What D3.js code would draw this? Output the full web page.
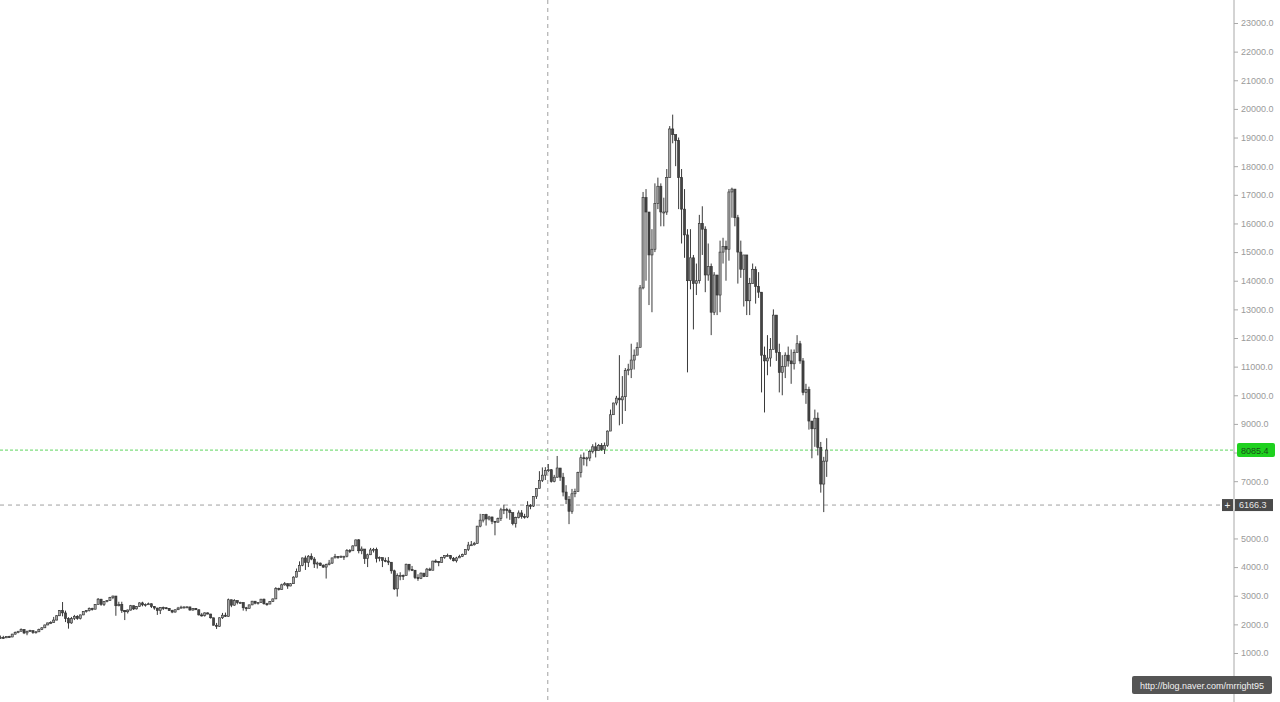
<!DOCTYPE html>
<html>
<head>
<meta charset="utf-8">
<script src="https://cdn.jsdelivr.net/npm/d3@7"></script>
<style>
  html, body { margin: 0; padding: 0; background: #fff; }
  svg { display: block; font-family: "Liberation Sans", Arial, sans-serif; }
</style>
</head>
<body>
<svg width="1280" height="702"></svg>
<script>
// daily BTC/USD candles, 2017-05-03 .. 2018-02-07 (open = previous close)
const startDay = "2017-05-03";
const firstOpen = 1450;

const closes = [
  1510, 1540, 1530, 1570, 1560, 1660, 1710, 1760, 1820, 1700, 1760, 1780, 1720, 1740, 1820, 1880, 1980, 2050, 2060, 2150, 2300, 2480, 2400, 2200, 2050, 2200, 2280, 2200, 2330,
  2450, 2480, 2550, 2530, 2700, 2880, 2700, 2800, 2830, 2940, 2990, 2650, 2700, 2480, 2440, 2500, 2650, 2540, 2620, 2750, 2680, 2700, 2720, 2620, 2570, 2480, 2590, 2580, 2560, 2480,
  2430, 2510, 2570, 2600, 2610, 2610, 2500, 2560, 2510, 2330, 2310, 2400, 2360, 2230, 1970, 1930, 2230, 2320, 2280, 2860, 2670, 2830, 2760, 2760, 2580, 2560, 2680, 2810, 2740, 2760, 2880,
  2720, 2710, 2800, 2890, 3250, 3220, 3380, 3420, 3340, 3420, 3650, 3850, 4060, 4320, 4160, 4380, 4280, 4110, 4140, 4060, 4000, 4090, 4140, 4320, 4370, 4350, 4380, 4380, 4580, 4570, 4740,
  4950, 4570, 4630, 4300, 4430, 4600, 4620, 4300, 4330, 4230, 4210, 4170, 3870, 3240, 3700, 3710, 3700, 4100, 3920, 3890, 3630, 3610, 3790, 3670, 3930, 3890, 4210, 4190, 4160, 4340,
  4400, 4400, 4310, 4220, 4320, 4370, 4440, 4610, 4770, 4780, 4820, 5430, 5640, 5830, 5680, 5750, 5600, 5570, 5700, 6000, 6010, 5980, 5900, 5520, 5730, 5890, 5770, 5750, 6150, 6130, 6470,
  6750, 7030, 7210, 7380, 7400, 6990, 7140, 7460, 7140, 6620, 6360, 5950, 6560, 6640, 7300, 7820, 7790, 7810, 8040, 8200, 8070, 8250, 8100, 8250, 8750, 9320, 9730, 9900, 9840, 9950,
  10860, 10910, 11230, 11400, 11670, 13750, 16900, 16400, 14900, 15100, 16700, 17300, 16400, 16400, 17600, 19300, 19100, 18900, 17600, 16500, 15600, 14000, 14800, 13900, 14000, 16000, 15800, 14200, 14500, 12900, 14200,
  13500, 15000, 15200, 15100, 17100, 17200, 16200, 15000, 14400, 14900, 13300, 13900, 14400, 13800, 13600, 11400, 11200, 11300, 11600, 12800, 11500, 10800, 11000, 11400, 11200, 11100, 11500, 11800, 11200, 10100, 10200,
  9100, 8830, 9200, 8180, 6900, 7700, 8085.4
];

const highs = [
  1530, 1610, 1600, 1580, 1600, 1670, 1750, 1770, 1860, 1830, 1780, 1810, 1780, 1760, 1850, 1900, 1990, 2060, 2110, 2260, 2320, 2500, 2780, 2480, 2250, 2260, 2330, 2320, 2340,
  2460, 2500, 2590, 2580, 2710, 2920, 2890, 2810, 2850, 2960, 3000, 2990, 2790, 2790, 2500, 2520, 2680, 2660, 2640, 2770, 2790, 2730, 2760, 2730, 2640, 2580, 2600, 2620, 2600, 2570,
  2510, 2520, 2610, 2650, 2620, 2630, 2610, 2570, 2570, 2520, 2400, 2420, 2420, 2370, 2230, 2050, 2240, 2400, 2410, 2900, 2860, 2880, 2830, 2790, 2770, 2610, 2690, 2820, 2810, 2770, 2890,
  2900, 2750, 2810, 2900, 3300, 3280, 3420, 3480, 3430, 3440, 3680, 3950, 4200, 4330, 4400, 4420, 4480, 4350, 4190, 4160, 4100, 4120, 4250, 4330, 4460, 4380, 4400, 4390, 4630, 4630, 4760,
  4960, 4980, 4720, 4630, 4470, 4670, 4670, 4680, 4370, 4330, 4330, 4350, 4170, 3910, 3780, 3820, 3740, 4120, 4100, 4040, 3900, 3750, 3810, 3790, 3970, 3980, 4220, 4270, 4210, 4360,
  4410, 4470, 4420, 4350, 4360, 4430, 4470, 4620, 4880, 4910, 4880, 5440, 5860, 5840, 5860, 5790, 5760, 5600, 5730, 6070, 6180, 6070, 6040, 5900, 5760, 5980, 5990, 5860, 6300, 6200, 6480,
  6760, 7350, 7480, 7490, 7600, 7420, 7220, 7880, 7460, 7290, 6860, 6480, 6730, 6740, 7330, 7930, 8000, 7850, 8100, 8290, 8350, 8300, 8330, 8350, 8770, 9500, 9740, 9980, 11400, 10670,
  10950, 11100, 11800, 11600, 11850, 13850, 17100, 17200, 16300, 15800, 17400, 17600, 17400, 16900, 17900, 19400, 19800, 19100, 19000, 17900, 17200, 15800, 15800, 14900, 14600, 16300, 16600, 15900, 15300, 14600, 14300,
  14200, 15400, 15500, 15400, 17200, 17250, 17100, 16300, 15400, 14900, 14900, 14100, 14600, 14500, 14300, 13600, 11700, 12100, 12000, 13000, 12800, 11800, 11400, 11500, 11700, 11600, 11600, 12100, 11900, 11300, 10400,
  10300, 9100, 9500, 9400, 8370, 7850, 8500
];

const lows = [
  1450, 1490, 1500, 1520, 1540, 1550, 1640, 1690, 1750, 1660, 1620, 1740, 1670, 1680, 1730, 1800, 1870, 1970, 2010, 2050, 2140, 2290, 2280, 2080, 1850, 2020, 2150, 2160, 2170,
  2320, 2410, 2450, 2480, 2520, 2690, 2650, 2640, 2770, 2820, 2880, 2300, 2630, 2400, 2150, 2380, 2480, 2500, 2520, 2610, 2630, 2620, 2690, 2570, 2510, 2330, 2360, 2500, 2530, 2470,
  2390, 2410, 2500, 2560, 2550, 2590, 2480, 2480, 2500, 2310, 2270, 2270, 2350, 2200, 1960, 1840, 1920, 2190, 2260, 2270, 2600, 2650, 2700, 2720, 2480, 2460, 2550, 2670, 2700, 2690, 2750,
  2690, 2650, 2700, 2780, 2880, 3180, 3210, 3350, 3240, 3330, 3410, 3640, 3850, 4030, 3900, 4000, 4240, 3970, 3950, 4040, 3970, 3600, 4060, 4110, 4310, 4290, 4320, 4250, 4340, 4490, 4560,
  4730, 4480, 4450, 4110, 4000, 4420, 4510, 4160, 4200, 4000, 4170, 4070, 3770, 3200, 2970, 3540, 3550, 3700, 3850, 3860, 3580, 3520, 3580, 3650, 3670, 3870, 3890, 4150, 4030, 4160,
  4290, 4370, 4260, 4200, 4160, 4320, 4350, 4430, 4560, 4740, 4750, 4810, 5390, 5560, 5450, 5630, 5500, 5110, 5550, 5610, 5850, 5700, 5650, 5460, 5380, 5700, 5690, 5690, 5710, 6020, 6100,
  6380, 6750, 6970, 7040, 7320, 6950, 6960, 7120, 7010, 6470, 6200, 5500, 5860, 6440, 6640, 7130, 7550, 7520, 7700, 7970, 7830, 8070, 8060, 7950, 8200, 8750, 9320, 9650, 8950, 9000,
  9450, 10700, 10600, 10900, 11450, 11700, 13700, 14000, 13150, 12900, 15000, 16500, 15900, 15900, 16300, 17600, 18800, 18000, 16500, 15300, 14800, 10800, 13700, 12300, 13500, 13900, 14900, 13600, 14000, 12100, 12800,
  12800, 12900, 14600, 14000, 14700, 16200, 15900, 13900, 14100, 13100, 12800, 12800, 13900, 13200, 13400, 10100, 9400, 10700, 11000, 11600, 11200, 10100, 10000, 10600, 11000, 10400, 10900, 11500, 11100, 10000, 9700,
  8800, 7800, 8200, 7900, 6600, 5920, 7150
];

const priceTicks = [1000, 2000, 3000, 4000, 5000, 6000, 7000, 8000, 9000, 10000, 11000, 12000,
  13000, 14000, 15000, 16000, 17000, 18000, 19000, 20000, 21000, 22000, 23000];

const lastPrice = 8085.4;
const crosshairPrice = 6166.3;
const crosshairDay = "2017-11-05";
const watermark = "http://blog.naver.com/mrright95";

const svg = d3.select("svg");
const width = +svg.attr("width");
const height = +svg.attr("height");
const axisX = 1234;

const parse = d3.timeParse("%Y-%m-%d");
const start = parse(startDay);
const candles = closes.map((c, i) => ({
  date: d3.timeDay.offset(start, i),
  open: i === 0 ? firstOpen : closes[i - 1],
  high: highs[i],
  low: lows[i],
  close: c
}));

const x = d3.scaleTime()
  .domain([candles[0].date, candles[candles.length - 1].date])
  .range([-2.6, 826.7]);

const y = d3.scaleLinear()
  .domain([1000, 23000])
  .range([653, 23]);

const step = x(candles[1].date) - x(candles[0].date);
const bodyW = step * 0.72;

// last price line
svg.append("line")
  .attr("x1", 0).attr("x2", axisX)
  .attr("y1", y(lastPrice)).attr("y2", y(lastPrice))
  .attr("stroke", "#5fd65f")
  .attr("stroke-width", 1)
  .attr("stroke-dasharray", "3,2");

// crosshair
svg.append("line")
  .attr("x1", x(parse(crosshairDay)) - 0.5).attr("x2", x(parse(crosshairDay)) - 0.5)
  .attr("y1", 0).attr("y2", height)
  .attr("stroke", "#a0a0a0")
  .attr("stroke-dasharray", "4,4");

svg.append("line")
  .attr("x1", 0).attr("x2", axisX - 12)
  .attr("y1", y(crosshairPrice)).attr("y2", y(crosshairPrice))
  .attr("stroke", "#a0a0a0")
  .attr("stroke-dasharray", "4,4");

// candles
const g = svg.append("g");

g.selectAll("line.wick")
  .data(candles)
  .enter()
  .append("line")
  .attr("class", "wick")
  .attr("x1", d => x(d.date))
  .attr("x2", d => x(d.date))
  .attr("y1", d => y(d.high))
  .attr("y2", d => y(d.low))
  .attr("stroke", "#3a3a3a")
  .attr("stroke-width", 1);

g.selectAll("rect.body")
  .data(candles)
  .enter()
  .append("rect")
  .attr("class", "body")
  .attr("x", d => x(d.date) - bodyW / 2)
  .attr("width", bodyW)
  .attr("y", d => y(Math.max(d.open, d.close)))
  .attr("height", d => Math.max(1, Math.abs(y(d.open) - y(d.close))))
  .attr("fill", d => d.close >= d.open ? "#a4a4a4" : "#444")
  .attr("stroke", "#2e2e2e")
  .attr("stroke-width", 0.6);

// price axis on the right
svg.append("line")
  .attr("x1", axisX).attr("x2", axisX)
  .attr("y1", 0).attr("y2", height)
  .attr("stroke", "#a8a8a8");

// labels hidden behind the price boxes are left out
const covered = v => Math.abs(y(v) - y(lastPrice)) < 9 || Math.abs(y(v) - y(crosshairPrice)) < 9;

const axis = svg.append("g")
  .attr("transform", `translate(${axisX},0)`)
  .call(d3.axisRight(y).tickValues(priceTicks)
    .tickFormat(v => covered(v) ? "" : d3.format(".1f")(v))
    .tickSize(4).tickPadding(3));

axis.select(".domain").remove();
axis.selectAll(".tick line").attr("stroke", "#aaa");
axis.selectAll(".tick text")
  .attr("fill", "#9a9a9a")
  .style("font-size", "9px")
  .style("font-family", "'Liberation Sans', Arial, sans-serif");

// last price label
const lp = svg.append("g").attr("transform", `translate(${axisX + 3},${y(lastPrice)})`);
lp.append("rect")
  .attr("x", 0).attr("y", -7)
  .attr("width", 38).attr("height", 14)
  .attr("rx", 2)
  .attr("fill", "#1fd11f");
lp.append("text")
  .attr("x", 4).attr("y", 3.5)
  .attr("fill", "#1a4d1a")
  .style("font-size", "9px")
  .text(d3.format(".1f")(lastPrice));

// crosshair price label
const cp = svg.append("g").attr("transform", `translate(${axisX},${y(crosshairPrice)})`);
cp.append("rect")
  .attr("x", -12).attr("y", -6)
  .attr("width", 11).attr("height", 12)
  .attr("fill", "#4a4a4a");
cp.append("text")
  .attr("x", -6.5).attr("y", 3.5)
  .attr("text-anchor", "middle")
  .attr("fill", "#eee")
  .style("font-size", "10px")
  .text("+");
cp.append("rect")
  .attr("x", 1).attr("y", -6)
  .attr("width", 38).attr("height", 12)
  .attr("fill", "#4a4a4a");
cp.append("text")
  .attr("x", 5).attr("y", 3.2)
  .attr("fill", "#e6e6e6")
  .style("font-size", "9px")
  .text(d3.format(".1f")(crosshairPrice));

// watermark
const wm = svg.append("g").attr("transform", "translate(1132,676)");
wm.append("rect")
  .attr("width", 140).attr("height", 18)
  .attr("rx", 2)
  .attr("fill", "#555");
wm.append("text")
  .attr("x", 70).attr("y", 12.5)
  .attr("text-anchor", "middle")
  .attr("fill", "#f2f2f2")
  .style("font-size", "9px")
  .text(watermark);
</script>
</body>
</html>
